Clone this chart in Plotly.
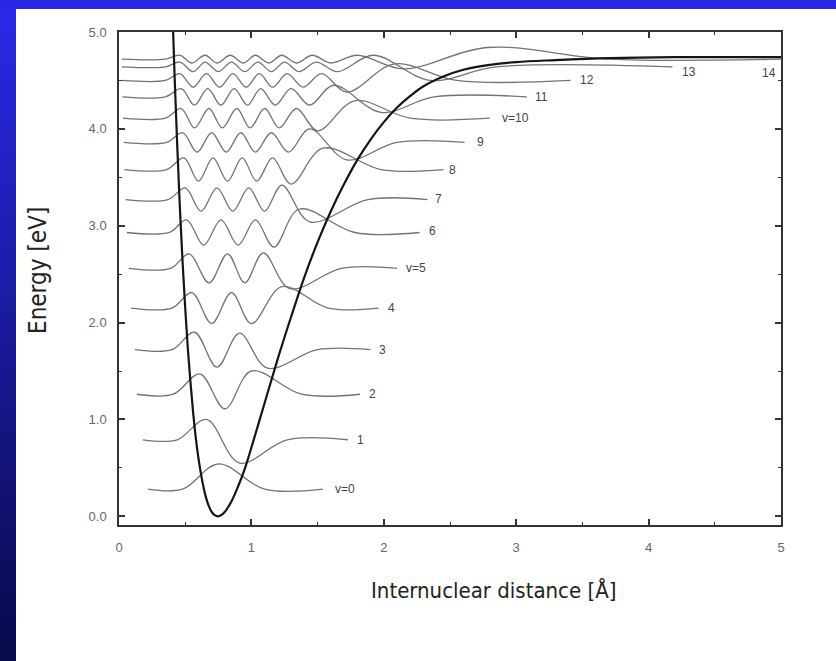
import plotly.graph_objects as go

# ---------------- data ----------------
levels = list(range(15))
energies = [0.28, 0.79, 1.26, 1.72, 2.15, 2.56, 2.93, 3.27, 3.58, 3.86, 4.11, 4.33, 4.50, 4.64, 4.72]
x_start = [0.22, 0.18, 0.135, 0.12, 0.09, 0.075, 0.06, 0.05, 0.04, 0.035, 0.03, 0.025, 0.02, 0.02, 0.02]
x_rise = [0.48, 0.44, 0.41, 0.40, 0.40, 0.39, 0.38, 0.37, 0.36, 0.36, 0.35, 0.35, 0.35, 0.35, 0.35]
x_settle = [1.10, 1.27, 1.38, 1.50, 1.58, 1.68, 1.78, 1.88, 1.98, 2.10, 2.20, 2.38, 2.55, 2.85, 3.70]
x_end = [1.54, 1.73, 1.82, 1.90, 1.96, 2.10, 2.27, 2.33, 2.45, 2.61, 2.80, 3.08, 3.41, 4.18, 5.0]

lobes_v0 = [0.75]
lobes_v1 = [0.66, 0.91]
lobes_v2 = [0.61, 0.80, 1.00]
lobes_v3 = [0.57, 0.74, 0.91, 1.12]
lobes_v4 = [0.55, 0.70, 0.85, 1.00, 1.23]
lobes_v5 = [0.53, 0.68, 0.82, 0.95, 1.09, 1.29]
lobes_v6 = [0.51, 0.64, 0.77, 0.90, 1.03, 1.17, 1.36]
lobes_v7 = [0.50, 0.62, 0.74, 0.86, 0.98, 1.10, 1.23, 1.44]
lobes_v8 = [0.49, 0.60, 0.71, 0.82, 0.93, 1.04, 1.16, 1.30, 1.54]
lobes_v9 = [0.48, 0.59, 0.70, 0.81, 0.92, 1.03, 1.15, 1.28, 1.44, 1.72]
lobes_v10 = [0.47, 0.57, 0.68, 0.78, 0.89, 0.99, 1.10, 1.21, 1.34, 1.50, 1.78]
lobes_v11 = [0.47, 0.57, 0.67, 0.77, 0.87, 0.97, 1.07, 1.18, 1.30, 1.44, 1.62, 1.98]
lobes_v12 = [0.46, 0.56, 0.66, 0.76, 0.86, 0.96, 1.06, 1.16, 1.27, 1.39, 1.53, 1.72, 2.08]
lobes_v13 = [0.46, 0.56, 0.65, 0.75, 0.85, 0.95, 1.05, 1.15, 1.25, 1.36, 1.49, 1.65, 1.92, 2.35]
lobes_v14 = [0.46, 0.55, 0.65, 0.74, 0.84, 0.94, 1.03, 1.13, 1.23, 1.34, 1.46, 1.60, 1.80, 2.15, 2.78]
lobe_x = [lobes_v0, lobes_v1, lobes_v2, lobes_v3, lobes_v4, lobes_v5, lobes_v6, lobes_v7,
          lobes_v8, lobes_v9, lobes_v10, lobes_v11, lobes_v12, lobes_v13, lobes_v14]

amp_inner = [0.26, 0.21, 0.21, 0.18, 0.16, 0.15, 0.13, 0.12, 0.12, 0.10, 0.10, 0.085, 0.07, 0.05, 0.04]
amp_penult = [0.26, 0.21, 0.15, 0.17, 0.16, 0.16, 0.15, 0.15, 0.15, 0.14, 0.13, 0.12, 0.12, 0.12, 0.10]
amp_last = [0.26, 0.24, 0.24, 0.19, 0.22, 0.21, 0.24, 0.23, 0.22, 0.18, 0.18, 0.16, 0.17, 0.14, 0.12]

label_text = ["v=0", "1", "2", "3", "4", "v=5", "6", "7", "8", "9", "v=10", "11", "12", "13", "14"]
label_x = [1.62, 1.78, 1.87, 1.95, 2.02, 2.15, 2.33, 2.37, 2.48, 2.69, 2.88, 3.13, 3.47, 4.24, 4.84]
label_y = [0.28, 0.79, 1.26, 1.72, 2.15, 2.56, 2.95, 3.28, 3.58, 3.86, 4.11, 4.33, 4.50, 4.59, 4.58]

pot_r = [0.39, 0.40, 0.42, 0.44, 0.46, 0.48, 0.50, 0.52, 0.54, 0.56, 0.58, 0.60, 0.62, 0.64, 0.66,
         0.68, 0.70, 0.72, 0.745, 0.77, 0.80, 0.85, 0.90, 0.95, 1.00, 1.10, 1.20, 1.30, 1.40,
         1.50, 1.60, 1.70, 1.80, 1.90, 2.00, 2.10, 2.20, 2.30, 2.45, 2.60, 2.80, 3.00, 3.30,
         3.70, 4.20, 5.00]
pot_E = [5.60, 5.35, 4.54, 3.82, 3.18, 2.63, 2.15, 1.73, 1.38, 1.07, 0.81, 0.60, 0.43, 0.29, 0.18,
         0.10, 0.046, 0.014, 0.0, 0.01, 0.047, 0.155, 0.31, 0.49, 0.71, 1.17, 1.63, 2.06, 2.47,
         2.83, 3.15, 3.43, 3.68, 3.89, 4.07, 4.22, 4.34, 4.44, 4.54, 4.61, 4.66, 4.69, 4.71,
         4.73, 4.74, 4.74]

x_ticks = [0, 1, 2, 3, 4, 5]
x_ticktext = ["0", "1", "2", "3", "4", "5"]
y_ticks = [0, 1, 2, 3, 4, 5]
y_ticktext = ["0.0", "1.0", "2.0", "3.0", "4.0", "5.0"]

# ---------------- figure ----------------
W, H = 836, 661
ML, MR, MT, MB = 119, 55, 32, 136
PW, PH = W - ML - MR, H - MT - MB

def px(x):
    return (x - ML) / PW

def py(y):
    return (H - MB - y) / PH

fig = go.Figure()

wave_color = "#737373"
for v in levels:
    E = energies[v]
    xs = [x_start[v], x_rise[v]]
    ys = [E, E]
    lob = lobe_x[v]
    n = len(lob)
    for k, xk in enumerate(lob):
        if k == n - 1:
            a = amp_last[v]
        elif k == n - 2:
            a = amp_penult[v]
        else:
            a = amp_inner[v]
        s = 1 if k % 2 == 0 else -1
        xs.append(xk)
        ys.append(E + s * a)
    xs += [x_settle[v], x_end[v]]
    ys += [E, E]
    fig.add_trace(go.Scatter(x=xs, y=ys, mode="lines",
                             line=dict(color=wave_color, width=1.3, shape="spline", smoothing=1.0),
                             hoverinfo="skip", showlegend=False))

fig.add_trace(go.Scatter(x=pot_r, y=pot_E, mode="lines",
                         line=dict(color="#151515", width=2.2, shape="spline", smoothing=1.0),
                         hoverinfo="skip", showlegend=False))

for t, lx, ly in zip(label_text, label_x, label_y):
    fig.add_annotation(x=lx, y=ly, text=t, showarrow=False, xanchor="left", yanchor="middle",
                       font=dict(family="Liberation Sans, Arial, sans-serif", size=12, color="#444"))

# background frame (blue gradient border)
shapes = []
nb = 40
for i in range(nb):
    f = i / (nb - 1)
    r = int(42 + (10 - 42) * f)
    g = int(42 + (10 - 42) * f)
    b = int(232 + (78 - 232) * f)
    y0 = H * i / nb
    y1 = H * (i + 1) / nb + 1
    shapes.append(dict(type="rect", xref="paper", yref="paper", x0=px(0), x1=px(16),
                       y0=py(y1), y1=py(y0), line=dict(width=0),
                       fillcolor=f"rgb({r},{g},{b})", layer="below"))
shapes.append(dict(type="rect", xref="paper", yref="paper", x0=px(0), x1=px(W),
                   y0=py(9), y1=py(0), line=dict(width=0),
                   fillcolor="rgb(40,40,228)", layer="below"))

axis_common = dict(showline=True, linecolor="#333", linewidth=1.5, mirror="ticks",
                   ticks="inside", ticklen=6, tickwidth=1.5, tickcolor="#333",
                   showgrid=False, zeroline=False,
                   tickfont=dict(family="Liberation Sans, Arial, sans-serif", size=13, color="#666"))

fig.update_layout(
    width=W, height=H,
    margin=dict(l=ML, r=MR, t=MT, b=MB),
    paper_bgcolor="white", plot_bgcolor="white",
    shapes=shapes,
    xaxis=dict(range=[0, 5], tickvals=x_ticks, ticktext=x_ticktext, ticklabelstandoff=10,
               minor=dict(ticks="inside", ticklen=3, dtick=0.5, tickcolor="#333", tickwidth=1.2),
               **axis_common),
    yaxis=dict(range=[-0.09, 5.0], tickvals=y_ticks, ticktext=y_ticktext, ticklabelstandoff=8,
               minor=dict(ticks="inside", ticklen=3, dtick=0.5, tickcolor="#333", tickwidth=1.2),
               **axis_common),
)

title_family = "Liberation Sans Narrow, DejaVu Sans Condensed, Liberation Sans, Arial, sans-serif"
fig.add_annotation(x=px(493), y=py(590), xref="paper", yref="paper", text="Internuclear distance [Å]",
                   showarrow=False, xanchor="center", yanchor="middle",
                   font=dict(family=title_family, size=22, color="#222"))
fig.add_annotation(x=px(38), y=py(271), xref="paper", yref="paper", text="Energy [eV]",
                   textangle=-90, showarrow=False, xanchor="center", yanchor="middle",
                   font=dict(family=title_family, size=24, color="#222"))

fig.write_html("out.html")
